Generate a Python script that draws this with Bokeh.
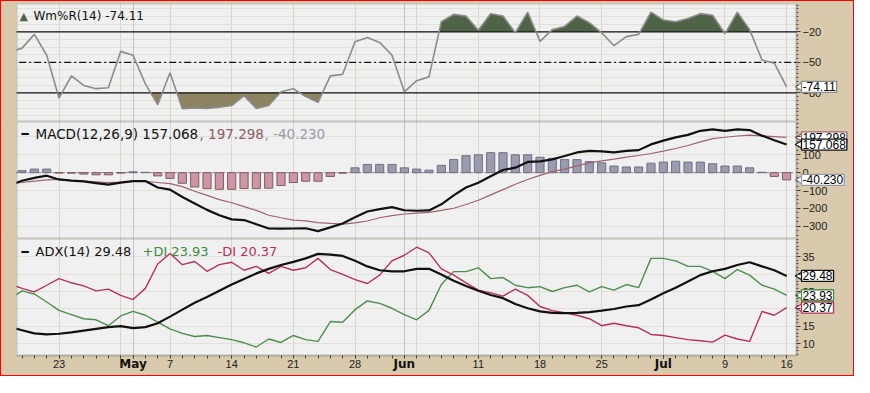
import math
from bokeh.plotting import figure
from bokeh.layouts import column
from bokeh.models import Range1d, FixedTicker, Label, Grid, BoxAnnotation
from bokeh.embed import file_html
from bokeh.resources import INLINE

# ---------------- data (trading-day index: 0 = Apr 18, -1 = Apr 17) ----------------
idx = list(range(-1, 63))

wpr = [-40.0, -36.0, -22.5, -43.0, -85.3, -63.3, -72.7, -75.9, -75.0, -39.2,
       -43.0, -71.2, -91.6, -60.2, -95.7, -94.8, -95.3, -94.1, -92.5, -82.8,
       -95.3, -92.5, -79.0, -76.0, -83.7, -89.4, -63.3, -61.8, -29.8, -25.6,
       -30.4, -43.0, -79.0, -68.0, -64.3, -10.0, -2.8, -4.4, -18.5, -2.1,
       -4.4, -20.9, -0.6, -29.4, -17.8, -14.7, -4.4, -11.0, -20.9, -33.6,
       -24.7, -22.5, -0.6, -8.4, -10.0, -6.8, -2.1, -3.7, -21.9, -0.6,
       -17.8, -47.7, -50.8, -74.11]

macd = [-70, -45, -29, -17, -38, -44, -49, -58, -67, -56,
        -47, -47, -83, -95, -136, -172, -208, -238, -261, -265,
        -288, -312, -313, -312, -311, -327, -306, -284, -249, -217,
        -204, -193, -210, -213, -211, -177, -127, -83, -56, -20,
        15, 28, 60, 63, 74, 93, 113, 122, 119, 113,
        122, 126, 158, 179, 197, 211, 234, 242, 234, 242,
        238, 207, 181, 157.068]

signal = [-60, -55, -47, -40, -38, -44, -47, -51, -56, -53,
          -49, -49, -55, -61, -78, -104, -127, -151, -168, -190,
          -211, -238, -252, -265, -270, -279, -284, -288, -281, -270,
          -252, -240, -231, -226, -222, -211, -199, -178, -154, -124,
          -95, -65, -38, -15, 6, 20, 38, 55, 66, 76,
          87, 96, 107, 120, 135, 152, 172, 190, 198, 205,
          210, 206, 202, 197.298]

hist = [-5, 11, 20, 20, -2, -3, -8, -12, -12, -2,
        5, 2, -18, -32, -59, -80, -89, -93, -93, -89,
        -89, -87, -72, -55, -48, -48, -21, -3, 27, 46,
        46, 46, 27, 20, 14, 41, 73, 95, 100, 112,
        112, 100, 100, 86, 80, 73, 73, 62, 55, 37,
        32, 32, 53, 59, 64, 59, 59, 50, 37, 37,
        27, 2, -21, -40.23]

adx = [14.8, 13.9, 13.0, 12.7, 12.9, 13.3, 13.8, 14.3, 14.8, 15.1,
       14.5, 14.8, 15.9, 17.8, 19.8, 21.8, 23.4, 25.2, 27.0, 28.6,
       30.2, 31.5, 32.6, 33.5, 34.5, 35.8, 35.6, 35.2, 33.8, 32.2,
       31.1, 30.8, 30.8, 31.5, 31.5, 29.9, 28.1, 26.6, 25.2, 24.0,
       23.1, 21.4, 20.2, 19.3, 18.9, 18.8, 18.9, 19.1, 19.5, 20.0,
       20.7, 21.1, 22.7, 24.5, 26.1, 27.9, 29.7, 30.8, 31.5, 32.6,
       33.4, 32.2, 31.1, 29.48]

pdi = [22.8, 25.2, 24.3, 22.0, 19.6, 18.4, 17.2, 16.9, 15.2, 18.0,
       19.3, 18.2, 16.2, 14.3, 13.0, 12.1, 12.4, 11.8, 11.2, 10.3,
       9.1, 11.4, 10.4, 12.4, 11.2, 10.7, 16.4, 16.2, 19.8, 22.3,
       21.6, 20.2, 18.4, 16.9, 19.6, 27.0, 30.7, 30.7, 31.8, 28.7,
       29.0, 26.8, 26.1, 26.4, 25.0, 26.1, 26.8, 24.9, 26.4, 25.4,
       27.0, 26.1, 34.5, 34.5, 33.8, 32.2, 32.2, 30.8, 28.7, 31.3,
       29.7, 26.8, 25.7, 23.93]

mdi = [27.2, 25.9, 24.9, 26.8, 28.7, 27.5, 26.6, 25.2, 25.7, 23.9,
       22.7, 25.9, 32.9, 35.9, 32.7, 33.6, 30.8, 32.7, 33.4, 31.1,
       32.2, 30.2, 32.2, 31.1, 31.8, 34.5, 31.3, 29.9, 28.4, 27.3,
       29.7, 33.8, 35.4, 37.7, 36.1, 31.5, 29.7, 27.5, 25.4, 24.6,
       23.7, 25.7, 23.9, 20.7, 19.5, 18.9, 18.2, 17.2, 15.2, 15.9,
       15.2, 14.6, 12.7, 12.4, 11.8, 11.2, 10.9, 10.5, 12.5, 11.4,
       10.7, 19.3, 18.2, 20.37]

day_ticks = [3, 12, 17, 22, 27, 37, 42, 47, 57, 62]
day_labels = ["23", "7", "14", "21", "28", "11", "18", "25", "9", "16"]
month_ticks = [9, 31, 52]
month_labels = ["May", "Jun", "Jul"]
week_grid = [3, 8, 12, 17, 22, 27, 32, 37, 42, 47, 52, 57, 62]

wpr_ticks = [-20, -50, -80]
wpr_levels = [-20, -50, -80]
macd_ticks = [-300, -200, -100, 0, 100, 200]
adx_ticks = [10, 15, 20, 25, 30, 35]

# ---------------- styling / layout ----------------
TAN = "#D9C9AD"
BG = "#F0F0F0"
GRID = "#E3E0D7"
VGRID = "#DAD6CA"
MGRID = "#C4C4C4"
EDGE = "#4A4A4A"
W = 852
FL = 15
FWT = W - FL          # whole frame width (plot area + right strip)
PW = 780              # plot-area width
X0, X1 = -0.45, 62.8
XR = X0 + (X1 - X0) * FWT / PW
LEG_FONT = "DejaVu Sans"
AX_FONT = "Liberation Sans"


def xd(px):
    return X0 + (px - FL) * (X1 - X0) / PW


def panel(ylo, yhi, fh, top, yt, ygrid, yminor, strip=0):
    span = yhi - ylo
    ybot = ylo - strip * span / fh
    p = figure(width=W, height=fh + strip + top,
               x_range=Range1d(X0, XR), y_range=Range1d(ybot, yhi),
               output_backend="svg", toolbar_location=None,
               x_axis_location="below" if strip else None, y_axis_location="right",
               min_border_left=FL, min_border_right=0,
               min_border_top=top, min_border_bottom=0,
               background_fill_color=TAN, border_fill_color=TAN,
               outline_line_color=None)
    ax = p.yaxis[0]
    ax.fixed_location = X1
    ax.ticker = FixedTicker(ticks=yt, minor_ticks=yminor)
    ax.axis_line_color = None
    ax.major_tick_in = 0
    ax.major_tick_out = 4
    ax.minor_tick_in = 0
    ax.minor_tick_out = 2
    ax.major_tick_line_color = "#333333"
    ax.minor_tick_line_color = "#555555"
    ax.major_label_standoff = 2
    ax.major_label_text_font = AX_FONT
    ax.major_label_text_font_size = "11px"
    ax.major_label_text_color = "#222222"
    p.ygrid.ticker = FixedTicker(ticks=ygrid)
    p.ygrid.grid_line_color = GRID
    p.xgrid.ticker = FixedTicker(ticks=week_grid)
    p.xgrid.grid_line_color = VGRID
    p.add_layout(Grid(dimension=0, ticker=FixedTicker(ticks=month_ticks),
                      grid_line_color=MGRID), "center")
    # light plot area, painted beneath the grids
    p.add_layout(BoxAnnotation(left=X0 - 5, right=X1, bottom=ylo, top=yhi + span,
                               fill_color=BG, fill_alpha=1, line_alpha=0, level="image"))
    # tan strip to the right of the plot area (and below it for the last panel)
    p.add_layout(BoxAnnotation(left=X1, right=XR + 5, bottom=ybot - span, top=yhi + span,
                               fill_color=TAN, fill_alpha=1, line_alpha=0, level="underlay"))
    if strip:
        p.add_layout(BoxAnnotation(left=X0 - 5, right=XR + 5, bottom=ybot - span, top=ylo,
                                   fill_color=TAN, fill_alpha=1, line_alpha=0,
                                   level="underlay"))
    return p


def frame_box(p, ylo, yhi):
    p.add_layout(BoxAnnotation(left=X0, right=X1, bottom=ylo, top=yhi, fill_alpha=0,
                               line_color=EDGE, line_width=2))


def zone_polys(xs, ys, thr, above):
    def inside(v):
        return v > thr if above else v < thr
    pxs, pys = [], []
    cx, cy = None, None
    for i in range(len(xs)):
        x, y = xs[i], ys[i]
        if i > 0 and inside(ys[i - 1]) != inside(y):
            x0, y0 = xs[i - 1], ys[i - 1]
            xc = x0 + (thr - y0) / (y - y0) * (x - x0)
            if cx is None:
                cx, cy = [xc], [thr]
            else:
                cx.append(xc); cy.append(thr)
                pxs.append(cx); pys.append(cy)
                cx, cy = None, None
        if inside(y):
            if cx is None:
                cx, cy = [x], [thr]
            cx.append(x); cy.append(y)
    if cx is not None:
        cx.append(xs[-1]); cy.append(thr)
        pxs.append(cx); pys.append(cy)
    return pxs, pys


def value_box(p, v, text, color):
    dx = 4.5 * (X1 - X0) / PW
    p.scatter([X1 + dx], [v], marker="triangle", angle=math.pi / 2, size=10,
              fill_color="white", line_color=color, line_width=1.2)
    p.add_layout(Label(x=X1, y=v, x_offset=5, text=text, text_font=AX_FONT,
                       text_font_size="12px", text_baseline="middle", text_align="left",
                       text_color="#000000", background_fill_color="white",
                       border_line_color=color, border_line_width=1.3, padding=1))


def legend_parts(p, fh, ylo, yhi, off, parts):
    y = yhi - off * (yhi - ylo) / fh
    for px, txt, col, size in parts:
        p.add_layout(Label(x=xd(px), y=y, text=txt, text_font=LEG_FONT,
                           text_font_size=size, text_color=col,
                           text_baseline="alphabetic", text_align="left"))


# ---------------- panel 1: Williams %R ----------------
H1, T1 = 118, 2
R1 = (-108.2, 7.9)
g1 = [-102.5 + 7.5 * k for k in range(15)]
m1 = [-106.25 + 3.75 * k for k in range(31)]
p1 = panel(R1[0], R1[1], H1, T1, wpr_ticks, g1, m1)
ox, oy = zone_polys(idx, wpr, -20, True)
p1.patches(ox, oy, fill_color="#4F6446", line_color=None)
sx, sy = zone_polys(idx, wpr, -80, False)
p1.patches(sx, sy, fill_color="#8D8262", line_color=None)
for lv in wpr_levels:
    p1.line([X0 - 1, X1], [lv, lv], line_color="#111111", line_width=1.3,
            line_dash="7 3 2 3" if lv == -50 else "solid")
p1.line(idx, wpr, line_color="#8C8C8C", line_width=1.6)
frame_box(p1, R1[0], R1[1])
legend_parts(p1, H1, R1[0], R1[1], 12.8, [
    (18, "\u25b2", "#4F6446", "11px"),
    (32, "Wm%R(14) -74.11", "#111111", "12px"),
])
value_box(p1, wpr[-1], "-74.11", "#8C8C8C")

# ---------------- panel 2: MACD ----------------
H2 = 117
R2 = (-368, 286)
p2 = panel(R2[0], R2[1], H2, 0, [-300, -200, -100, 0, 100, 200], macd_ticks,
           [-350 + 25 * k for k in range(26)])
p2.line([X0 - 1, X1], [0, 0], line_color="#8A8A8A", line_width=1, line_dash="5 3")
fills = ["#9B9BB0" if h >= 0 else "#CD96A5" for h in hist]
edges = ["#707082" if h >= 0 else "#7E5C66" for h in hist]
p2.vbar(x=idx, top=hist, bottom=0, width=0.66, fill_color=fills, line_color=edges,
        line_width=1)
p2.line(idx, signal, line_color="#9B6470", line_width=1.2)
p2.line(idx, macd, line_color="#111111", line_width=2.2)
frame_box(p2, R2[0], R2[1])
legend_parts(p2, H2, R2[0], R2[1], 12.8, [
    (20, "\u2501", "#111111", "12px"),
    (34, "MACD(12,26,9) 157.068", "#111111", "13.5px"),
    (198, ", 197.298", "#8E5A64", "13.5px"),
    (263, ", -40.230", "#9A9AAA", "13.5px"),
])
value_box(p2, signal[-1], "197.298", "#9B6470")
value_box(p2, macd[-1], "157.068", "#111111")
value_box(p2, hist[-1], "-40.230", "#9A9AAA")

# ---------------- panel 3: ADX ----------------
H3, B3 = 117, 20
R3 = (6.66, 40.2)
p3 = panel(R3[0], R3[1], H3, 0, adx_ticks, adx_ticks, list(range(7, 41)), strip=B3)
p3.line(idx, pdi, line_color="#4F8C4F", line_width=1.4)
p3.line(idx, mdi, line_color="#B4325A", line_width=1.4)
p3.line(idx, adx, line_color="#111111", line_width=2.2)
frame_box(p3, R3[0], R3[1])
legend_parts(p3, H3, R3[0], R3[1], 13.0, [
    (20, "\u2501", "#111111", "12px"),
    (34, "ADX(14) 29.48", "#111111", "13px"),
    (141, "+DI 23.93", "#3F8A3F", "13px"),
    (216, "-DI 20.37", "#B4325A", "13px"),
])
value_box(p3, adx[-1], "29.48", "#111111")
value_box(p3, pdi[-1], "23.93", "#4F8C4F")
value_box(p3, mdi[-1], "20.37", "#B4325A")

xa = p3.xaxis[0]
xa.fixed_location = R3[0]
xa.ticker = FixedTicker(ticks=day_ticks + month_ticks, minor_ticks=idx)
ov = {t: l for t, l in zip(day_ticks, day_labels)}
ov.update({t: "" for t in month_ticks})
xa.major_label_overrides = ov
xa.axis_line_color = None
xa.major_tick_in = 0
xa.major_tick_out = 3
xa.minor_tick_in = 0
xa.minor_tick_out = 3
xa.major_tick_line_color = "#333333"
xa.minor_tick_line_color = "#444444"
xa.major_label_standoff = 1
xa.major_label_text_font = AX_FONT
xa.major_label_text_font_size = "11px"
xa.major_label_text_color = "#222222"
ym = R3[0] - 8.5 * (R3[1] - R3[0]) / H3
for t, l in zip(month_ticks, month_labels):
    p3.add_layout(Label(x=t, y=ym, text=l, text_font=LEG_FONT, text_font_size="12px",
                        text_font_style="bold", text_color="#111111",
                        text_align="center", text_baseline="middle"))

layout = column(p1, p2, p3, spacing=0,
                styles={"border": "1px solid #FF0000", "background-color": TAN})
open("out.html", "w").write(file_html(layout, INLINE))
